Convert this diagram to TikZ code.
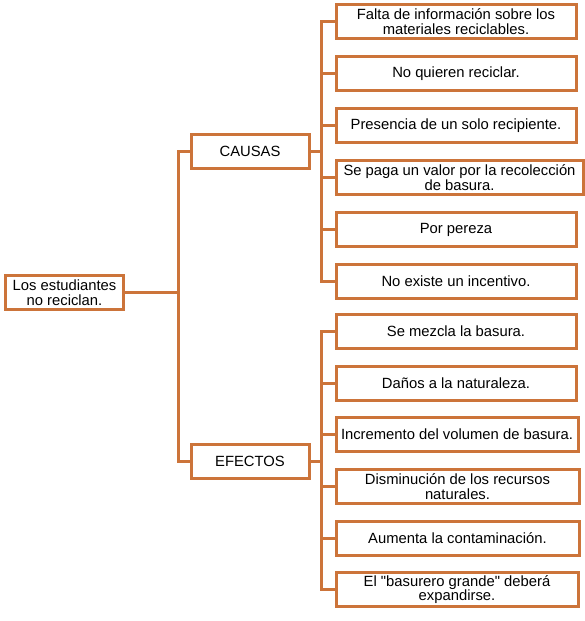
\documentclass[tikz,border=0pt]{standalone}
\usepackage{fontspec}
\setmainfont{Liberation Sans}
\definecolor{naranja}{RGB}{204,116,58}
\tikzset{caja/.style={draw=naranja,line width=3pt,minimum height=34pt,inner sep=2pt,
    align=center,font=\fontsize{14.8}{14.5}\selectfont},
  rama/.style={draw=naranja,line width=3pt}}

\begin{document}
\begin{tikzpicture}[x=1pt,y=-1pt]
\useasboundingbox (0,0) rectangle (585,621);
\node[caja,minimum width=118pt] (raiz) at (64.5,292.5) {Los estudiantes\\no reciclan.};
\node[caja,minimum width=118pt] (causas) at (250,151.5) {CAUSAS};
\node[caja,minimum width=118pt] (efectos) at (250,461.5) {EFECTOS};
\foreach \i/\y/\w/\t in {1/21.5/240/{Falta de información sobre los\\materiales reciclables.},
    2/73.5/240/{No quieren reciclar.},
    3/125.5/240/{Presencia de un solo recipiente.},
    4/177.5/247/{Se paga un valor por la recolección\\de basura.},
    5/229.5/240/{Por pereza},
    6/281/240/{No existe un incentivo.}}
  {\node[caja,anchor=west,minimum width=\w pt] (c\i) at (334.5,\y) {\t};}
\foreach \i/\y/\w/\t in {1/331.5/240/{Se mezcla la basura.},
    2/383.5/240/{Daños a la naturaleza.},
    3/434.5/242/{Incremento del volumen de basura.},
    4/486.5/243/{Disminución de los recursos\\naturales.},
    5/538.5/243/{Aumenta la contaminación.},
    6/589.5/242/{El \textquotedbl basurero grande\textquotedbl{} deberá\\expandirse.}}
  {\node[caja,anchor=west,minimum width=\w pt] (e\i) at (334.5,\y) {\t};}
% tronco
\coordinate (tronco) at (178,292.5);
\draw[rama] (raiz.east) -- (tronco);
\draw[rama] (causas.west) -| (tronco) |- (efectos.west);
% ramas
\coordinate (bc) at (321,151.5);
\coordinate (be) at (321,461.5);
\draw[rama] (causas.east) -- (bc);
\draw[rama] (efectos.east) -- (be);
\foreach \i in {1,...,6}
  {\draw[rama] (bc) |- (c\i.west);
   \draw[rama] (be) |- (e\i.west);}
\end{tikzpicture}
\end{document}
